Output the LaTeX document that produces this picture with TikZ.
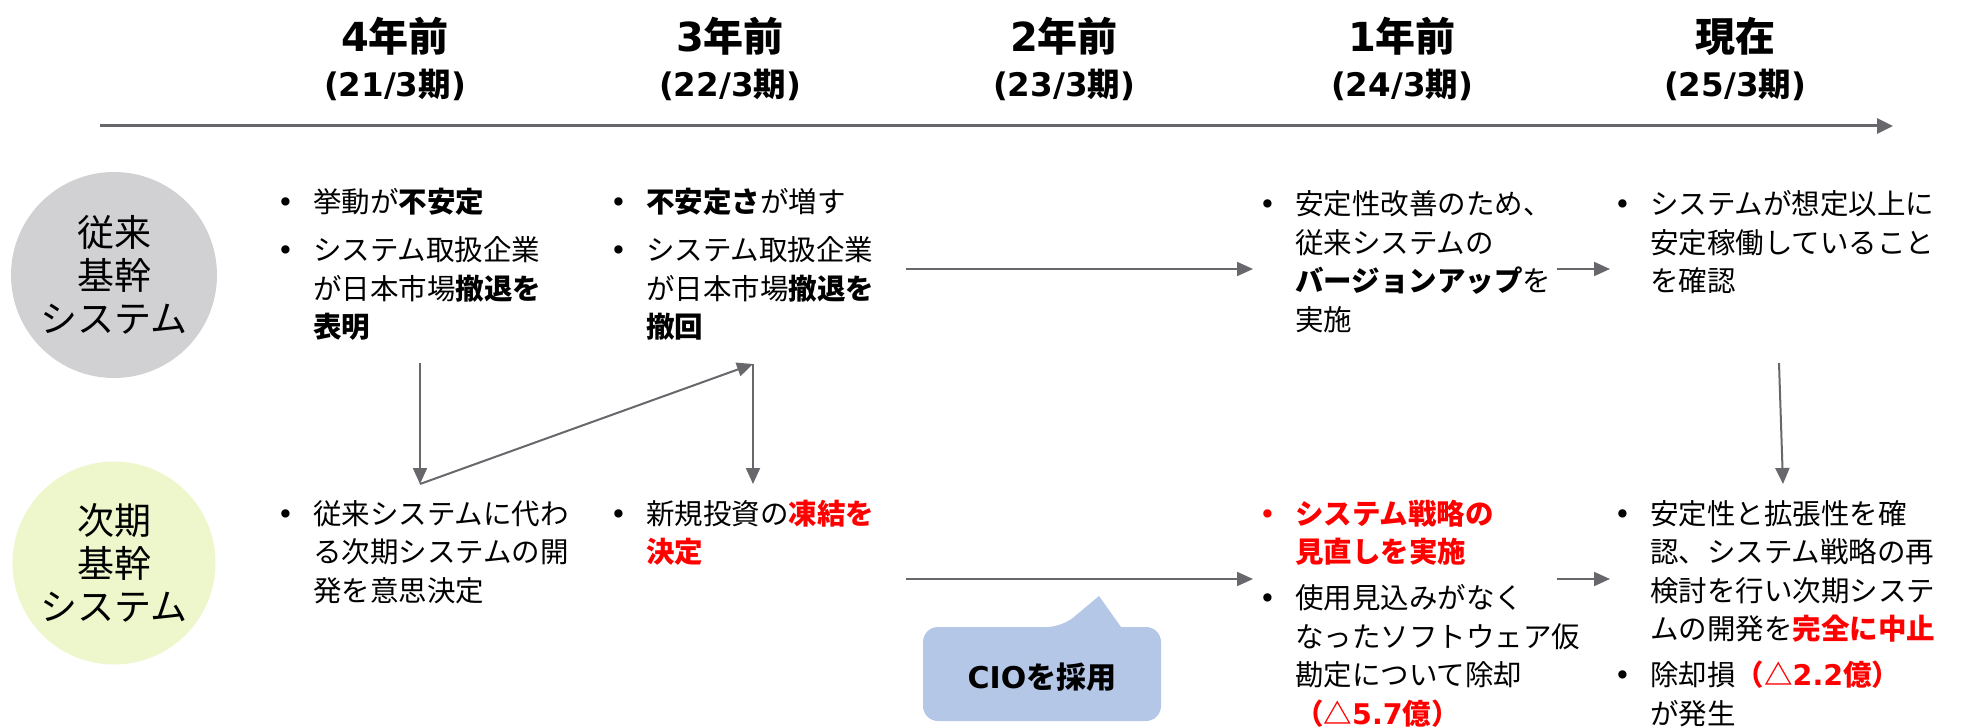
\documentclass[tikz,border=0pt]{standalone}
\usepackage{fontspec}
\setmainfont{Noto Sans CJK JP}
\newfontfamily\lat{DejaVu Sans}
\newfontfamily\dv{DejaVu Sans}
\usetikzlibrary{arrows.meta}
\definecolor{arr}{HTML}{68686C}
\definecolor{gcirc}{HTML}{D1D1D3}
\definecolor{ycirc}{HTML}{EEF6CC}
\definecolor{ciofill}{HTML}{B4C7E7}
\definecolor{rd}{HTML}{FF0000}
\newcommand{\bl}{\makebox[36pt][l]{\dv •}}
\newcommand{\ind}{\makebox[36pt]{}}
\newcommand{\rb}[1]{\textcolor{rd}{\textbf{#1}}}
\begin{document}
\begin{tikzpicture}[x=1pt,y=-1pt,
  hd/.style={font=\fontsize{40}{42}\selectfont\bfseries, inner sep=0},
  sub/.style={font=\fontsize{32.5}{34}\selectfont\bfseries, inner sep=0},
  body/.style={font=\fontsize{28.5}{38.5}\selectfont, inner sep=0, anchor=base west},
  circ/.style={circle, minimum size=206pt, inner sep=0, align=center, font=\fontsize{37}{43}\selectfont},
  conn/.style={draw=arr, line width=2pt, -{Triangle[length=16pt,width=14pt]}},
]
\useasboundingbox (0,0) rectangle (1966,727);

% headers
\node[hd] (h1) at (395,36) {{\lat 4}年前};
\node[hd] (h2) at (730,36) {{\lat 3}年前};
\node[hd] (h3) at (1064,36) {{\lat 2}年前};
\node[hd] (h4) at (1402,36) {{\lat 1}年前};
\node[hd] (h5) at (1735,36) {現在};
\node[sub] (s1) at (395,85) {{\lat (21/3}期{\lat )}};
\node[sub] (s2) at (730,85) {{\lat (22/3}期{\lat )}};
\node[sub] (s3) at (1064,85) {{\lat (23/3}期{\lat )}};
\node[sub] (s4) at (1402,85) {{\lat (24/3}期{\lat )}};
\node[sub] (s5) at (1735,85) {{\lat (25/3}期{\lat )}};

% timeline
\coordinate (tl0) at (100,126);
\coordinate (tl1) at (1893,126);
\draw[draw=arr, line width=3pt, -{Triangle[length=16pt,width=15pt]}] (tl0) -- (tl1);

% circles
\node[circ, fill=gcirc] (c1) at (114,275) {従来\\基幹\\システム};
\node[circ, fill=ycirc, minimum size=203pt] (c2) at (114,563) {次期\\基幹\\システム};

% top row texts
\node[body] (a1) at (277,213) {\begin{tabular}[t]{@{}l@{}}\bl 挙動が\textbf{不安定}\\[9.5pt]\bl システム取扱企業\\\ind が日本市場\textbf{撤退を}\\\ind\textbf{表明}\end{tabular}};
\node[body] (a2) at (610,213) {\begin{tabular}[t]{@{}l@{}}\bl\textbf{不安定さ}が増す\\[9.5pt]\bl システム取扱企業\\\ind が日本市場\textbf{撤退を}\\\ind\textbf{撤回}\end{tabular}};
\node[body] (a4) at (1259,215) {\begin{tabular}[t]{@{}l@{}}\bl 安定性改善のため、\\\ind 従来システムの\\\ind\textbf{バージョンアップ}を\\\ind 実施\end{tabular}};
\node[body] (a5) at (1614,215) {\begin{tabular}[t]{@{}l@{}}\bl システムが想定以上に\\\ind 安定稼働していること\\\ind を確認\end{tabular}};

% bottom row texts
\node[body] (b1) at (277,524) {\begin{tabular}[t]{@{}l@{}}\bl 従来システムに代わ\\\ind る次期システムの開\\\ind 発を意思決定\end{tabular}};
\node[body] (b2) at (610,524) {\begin{tabular}[t]{@{}l@{}}\bl 新規投資の\rb{凍結を}\\\ind\rb{決定}\end{tabular}};
\node[body] (b4) at (1259,524) {\begin{tabular}[t]{@{}l@{}}\textcolor{rd}{\bl}\rb{システム戦略の}\\\ind\rb{見直しを実施}\\[7.5pt]\bl 使用見込みがなく\\\ind なったソフトウェア仮\\\ind 勘定について除却\\\ind\rb{（△{\lat 5.7}億）}\end{tabular}};
\node[body] (b5) at (1614,524) {\begin{tabular}[t]{@{}l@{}}\bl 安定性と拡張性を確\\\ind 認、システム戦略の再\\\ind 検討を行い次期システ\\\ind ムの開発を\rb{完全に中止}\\[7.5pt]\bl 除却損\rb{（△{\lat 2.2}億）}\\\ind が発生\end{tabular}};

% connectors
\coordinate (p1) at (420,363);
\coordinate (p2) at (420,484);
\coordinate (p3) at (753,364);
\coordinate (p4) at (753,484);
\draw[conn] (p1) -- (p2);
\draw[conn] (p2) -- (p3);
\draw[conn] (p3) -- (p4);
\coordinate (q1) at (906,269);
\coordinate (q2) at (1253,269);
\coordinate (q3) at (1557,269);
\coordinate (q4) at (1610,269);
\draw[conn] (q1) -- (q2);
\draw[conn] (q3) -- (q4);
\coordinate (r1) at (906,579);
\coordinate (r2) at (1253,579);
\coordinate (r3) at (1557,579);
\coordinate (r4) at (1610,579);
\draw[conn] (r1) -- (r2);
\draw[conn] (r3) -- (r4);
\coordinate (v1) at (1779,363);
\coordinate (v2) at (1783,484);
\draw[conn] (v1) -- (v2);

% callout
\fill[ciofill] (1062,627) [sharp corners] -- (1099,596) -- (1121,627) [rounded corners=15pt] -- (1161,627) -- (1161,721) -- (923,721) -- (923,627) -- cycle;
\node[font=\fontsize{30}{32}\selectfont\bfseries, inner sep=0] (cio) at (1042,677) {{\lat CIO}を採用};
\end{tikzpicture}
\end{document}
